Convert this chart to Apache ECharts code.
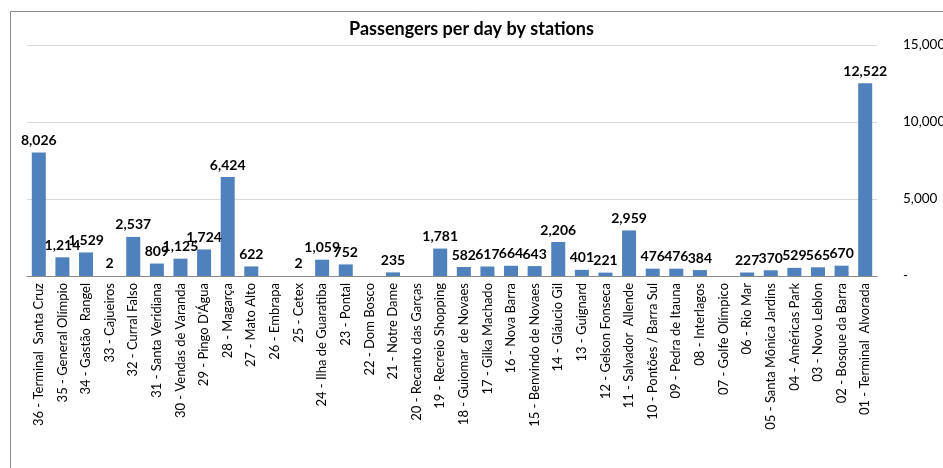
<!DOCTYPE html>
<html>
<head>
<meta charset="utf-8">
<script src="https://cdn.jsdelivr.net/npm/echarts@6/dist/echarts.min.js"></script>
<style>html,body{margin:0;padding:0;background:#fff}#c{width:943px;height:468px}</style>
</head>
<body>
<div id="c"></div>
<script>
const title = 'Passengers per day by stations';
const stations = [
  '36 - Terminal  Santa Cruz', '35 - General Olímpio', '34 - Gastão  Rangel', '33 - Cajueiros',
  '32 - Curral Falso', '31 - Santa Veridiana', '30 - Vendas de Varanda', "29 - Pingo D'Água",
  '28 - Magarça', '27 - Mato Alto', '26 - Embrapa', '25 - Cetex',
  '24 - Ilha de Guaratiba', '23 - Pontal', '22 - Dom Bosco', '21 - Notre Dame',
  '20 - Recanto das Garças', '19 - Recreio Shopping', '18 - Guiomar  de Novaes', '17 - Gilka Machado',
  '16 - Nova Barra', '15 - Benvindo de Novaes', '14 - Gláucio Gil', '13 - Guignard',
  '12 - Gelson Fonseca', '11 - Salvador  Allende', '10 - Pontões / Barra Sul', '09 - Pedra de Itauna',
  '08 - Interlagos', '07 - Golfe Olímpico', '06 - Rio Mar', '05 - Santa Mônica Jardins',
  '04 - Américas Park', '03 - Novo Leblon', '02 - Bosque da Barra', '01 - Terminal  Alvorada'
];
const passengers = [
  8026, 1214, 1529, 2,
  2537, 809, 1125, 1724,
  6424, 622, null, 2,
  1059, 752, null, 235,
  null, 1781, 582, 617,
  664, 643, 2206, 401,
  221, 2959, 476, 476,
  384, null, 227, 370,
  529, 565, 670, 12522
];
const yMin = 0, yMax = 15000, yStep = 5000;

const FONT = 'Lato, "Open Sans", sans-serif';
const chart = echarts.init(document.getElementById('c'), null, {renderer: 'canvas'});
chart.setOption({
  animation: false,
  backgroundColor: '#ffffff',
  graphic: [{
    type: 'rect', silent: true, z: 0,
    shape: {x: 10.5, y: 11.5, width: 1000, height: 1000},
    style: {fill: 'none', stroke: '#8c8c8c', lineWidth: 1}
  }],
  title: {
    text: title, left: 'center', top: 15,
    textStyle: {fontFamily: FONT, fontSize: 18, fontWeight: 'bold', color: '#000'}
  },
  grid: {left: 27, right: 66, top: 45, bottom: 192, containLabel: false, outerBoundsMode: 'none'},
  xAxis: {
    type: 'category', data: stations,
    axisLine: {lineStyle: {color: '#8c8c8c'}},
    axisTick: {show: false},
    axisLabel: {interval: 0, rotate: 90, margin: 7, fontFamily: FONT, fontSize: 13, color: '#000'}
  },
  yAxis: {
    type: 'value', position: 'right', min: yMin, max: yMax, interval: yStep,
    axisLine: {show: false}, axisTick: {show: false},
    splitLine: {lineStyle: {color: '#d9d9d9'}},
    axisLabel: {
      margin: 26, align: 'left', fontFamily: FONT, fontSize: 13.5, color: '#000',
      formatter: v => v === 0 ? '-' : v.toLocaleString('en-US')
    }
  },
  series: [{
    type: 'bar', data: passengers, barWidth: 14,
    itemStyle: {color: '#4f81bd'},
    label: {
      show: true, position: 'top', distance: 5,
      fontFamily: FONT, fontSize: 14, fontWeight: 'bold', color: '#000',
      formatter: p => p.value == null ? '' : Number(p.value).toLocaleString('en-US')
    }
  }]
});
</script>
</body>
</html>
